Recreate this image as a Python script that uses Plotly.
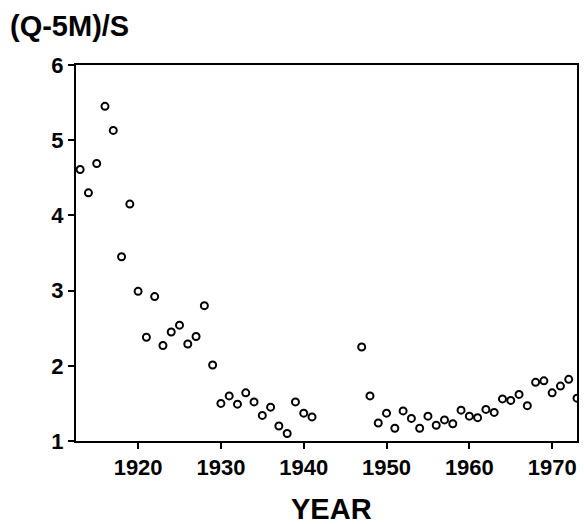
import plotly.graph_objects as go

years = list(range(1913, 1942)) + list(range(1947, 1974))
values = [
    4.61, 4.30, 4.69, 5.45, 5.13, 3.45, 4.15, 2.99, 2.38, 2.92,
    2.27, 2.45, 2.54, 2.29, 2.39, 2.80, 2.01, 1.50, 1.60, 1.49,
    1.64, 1.52, 1.34, 1.45, 1.20, 1.10, 1.52, 1.37, 1.32,
    2.25, 1.60, 1.24, 1.37, 1.17, 1.40, 1.30, 1.17, 1.33, 1.21,
    1.28, 1.23, 1.41, 1.33, 1.31, 1.42, 1.38, 1.56, 1.54, 1.62,
    1.47, 1.78, 1.80, 1.64, 1.73, 1.82, 1.57,
]
x_ticks = [1920, 1930, 1940, 1950, 1960, 1970]
y_ticks = [1, 2, 3, 4, 5, 6]
y_title = "(Q-5M)/S"
x_title = "YEAR"

FONT = "Liberation Sans, Arial, sans-serif"

fig = go.Figure(
    go.Scatter(
        x=years,
        y=values,
        mode="markers",
        marker=dict(symbol="circle-open", size=7, color="black",
                    line=dict(width=2, color="black")),
        cliponaxis=True,
        showlegend=False,
    )
)

axis_common = dict(
    showline=True, mirror=True, linecolor="black", linewidth=2,
    showgrid=False, zeroline=False,
    ticks="outside", ticklen=6, tickwidth=2, tickcolor="black",
    tickfont=dict(family=FONT, size=22, color="black", weight="bold"),
)

fig.update_layout(
    width=584, height=524,
    margin=dict(l=76, r=5, t=65, b=83),
    paper_bgcolor="white", plot_bgcolor="white",
    xaxis=dict(range=[1912.5, 1973], tickvals=x_ticks, **axis_common),
    yaxis=dict(range=[1, 6], tickvals=y_ticks, **axis_common),
    annotations=[
        dict(text=y_title, xref="paper", yref="paper", x=-0.135, y=1.104,
             xanchor="left", yanchor="middle", showarrow=False,
             font=dict(family=FONT, size=29, color="black", weight="bold")),
        dict(text=x_title, xref="paper", yref="paper", x=0.51, y=-0.181,
             xanchor="center", yanchor="middle", showarrow=False,
             font=dict(family=FONT, size=29, color="black", weight="bold")),
    ],
)

fig.write_html("out.html",
               config={"displayModeBar": False},
               post_script="document.body.style.margin='0';document.body.style.overflow='hidden';")
